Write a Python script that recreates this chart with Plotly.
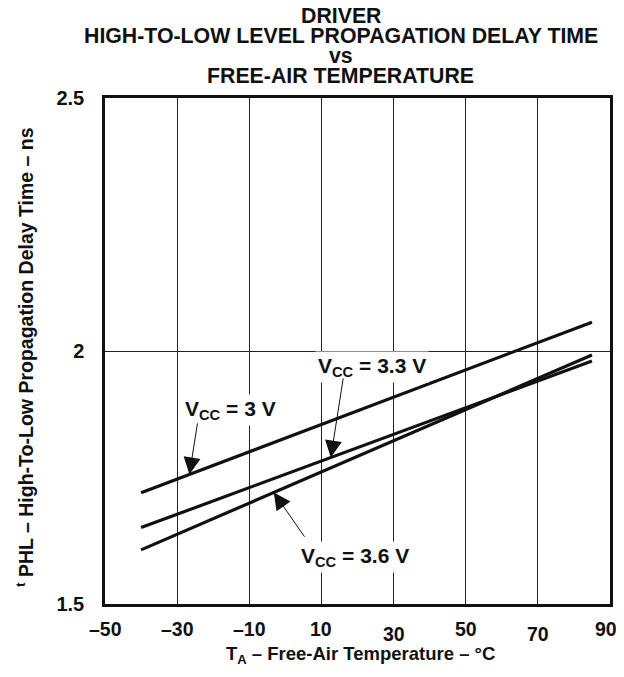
import plotly.graph_objects as go

# ---- data ----
temps = [-40, 85]
vcc_3v0 = [1.720, 2.057]
vcc_3v3 = [1.651, 1.980]
vcc_3v6 = [1.607, 1.992]

x_ticks = [-50, -30, -10, 10, 30, 50, 70, 90]
x_tick_text = ["–50", "–30", "–10", "10", "30", "50", "70", "90"]
x_tick_drop = [0, 0, 0, 0, 5, 0, 5, 0]   # label vertical offsets seen in reference
x_tick_nudge = [0, 0, 0, 0, 0, 0, 0, -4]  # keep the last label inside the page
y_ticks = [1.5, 2, 2.5]
y_tick_text = ["1.5", "2", "2.5"]

title_lines = ["DRIVER", "HIGH-TO-LOW LEVEL PROPAGATION DELAY TIME", "vs", "FREE-AIR TEMPERATURE"]

labels = ["V<sub>CC</sub> = 3 V", "V<sub>CC</sub> = 3.3 V", "V<sub>CC</sub> = 3.6 V"]
label_pos = [(-15.3, 1.883), (24.1, 1.968), (19.2, 1.593)]
arrow_tail = [(-24.3, 1.860), (16.1, 1.949), (5.6, 1.630)]
arrow_tip_t = [-26.6, 12.6, -3.2]

FONT = "Liberation Sans, Arial, Helvetica, sans-serif"
INK = "#111111"

# the page body has a default 8 px margin: compensate so the plot lands where the reference has it
BODY = 8
PAGE_W, PAGE_H = 624, 677
PLOT_L, PLOT_R, PLOT_T, PLOT_B = 105, 613, 98, 604   # page pixels of the frame

def on_line(t, xs, ys):
    return ys[0] + (t - xs[0]) * (ys[1] - ys[0]) / (xs[1] - xs[0])

series = [vcc_3v0, vcc_3v3, vcc_3v6]

fig = go.Figure()
for s in series:
    fig.add_trace(go.Scatter(x=temps, y=s, mode="lines",
                             line=dict(color=INK, width=3.2),
                             showlegend=False, hoverinfo="skip"))

pw = PLOT_R - PLOT_L
ph = PLOT_B - PLOT_T
annotations = []
# title lines
title_centers = [15.8, 35.5, 55.7, 76.0]
for txt, yc in zip(title_lines, title_centers):
    annotations.append(dict(text="<b>%s</b>" % txt, xref="paper", yref="paper",
                            x=(342 - PLOT_L) / pw, y=1, xanchor="center", yanchor="middle",
                            yshift=PLOT_T - yc, showarrow=False,
                            font=dict(family=FONT, size=21.3, color=INK)))

# curve labels
for txt, (lx, ly) in zip(labels, label_pos):
    annotations.append(dict(text="<b>%s</b>" % txt, x=lx, y=ly, xref="x", yref="y",
                            showarrow=False, bgcolor="white", borderpad=2,
                            font=dict(family=FONT, size=21, color=INK)))
# arrows
for s, (tx, ty), tt in zip(series, arrow_tail, arrow_tip_t):
    annotations.append(dict(text="", x=tt, y=on_line(tt, temps, s), xref="x", yref="y",
                            ax=tx, ay=ty, axref="x", ayref="y", showarrow=True,
                            arrowhead=2, arrowsize=3.4, arrowwidth=1, arrowcolor=INK))

# x tick labels
for v, t, d, n in zip(x_ticks, x_tick_text, x_tick_drop, x_tick_nudge):
    annotations.append(dict(text="<b>%s</b>" % t, x=v, y=0, xref="x", yref="paper",
                            xanchor="center", yanchor="top", yshift=-12 - d, xshift=n,
                            showarrow=False,
                            font=dict(family=FONT, size=19.5, color=INK)))

# axis titles
annotations.append(dict(text="<b>T<sub>A</sub> – Free-Air Temperature – °C</b>",
                        xref="paper", yref="paper", x=(362 - PLOT_L) / pw, y=0,
                        xanchor="center", yanchor="middle", yshift=-(655 - PLOT_B),
                        showarrow=False, font=dict(family=FONT, size=18.5, color=INK)))
annotations.append(dict(text="<b><sup>t</sup> PHL – High-To-Low Propagation Delay Time – ns</b>",
                        xref="paper", yref="paper", x=0, y=(PLOT_B - 357) / ph,
                        xanchor="center", yanchor="middle", xshift=-(PLOT_L - 25),
                        textangle=-90, showarrow=False,
                        font=dict(family=FONT, size=19.5, color=INK)))

fig.update_layout(
    width=PAGE_W - BODY, height=PAGE_H - BODY,
    margin=dict(l=PLOT_L - BODY, r=PAGE_W - PLOT_R, t=PLOT_T - BODY, b=PAGE_H - PLOT_B),
    paper_bgcolor="white", plot_bgcolor="white",
    font=dict(family=FONT, color=INK),
    annotations=annotations,
    xaxis=dict(range=[-50, 90], tickvals=x_ticks, showticklabels=False, ticks="",
               showgrid=True, gridcolor="#222222", gridwidth=1, zeroline=False,
               showline=True, linecolor=INK, linewidth=2.5, mirror=True,
               fixedrange=True),
    yaxis=dict(range=[1.5, 2.5], tickvals=y_ticks, ticktext=["<b>%s</b>" % t for t in y_tick_text],
               ticks="", tickfont=dict(family=FONT, size=20, color=INK),
               ticklabelstandoff=14,
               showgrid=True, gridcolor="#222222", gridwidth=1, zeroline=False,
               showline=True, linecolor=INK, linewidth=2.5, mirror=True,
               fixedrange=True),
)

fig.write_html("out.html")
